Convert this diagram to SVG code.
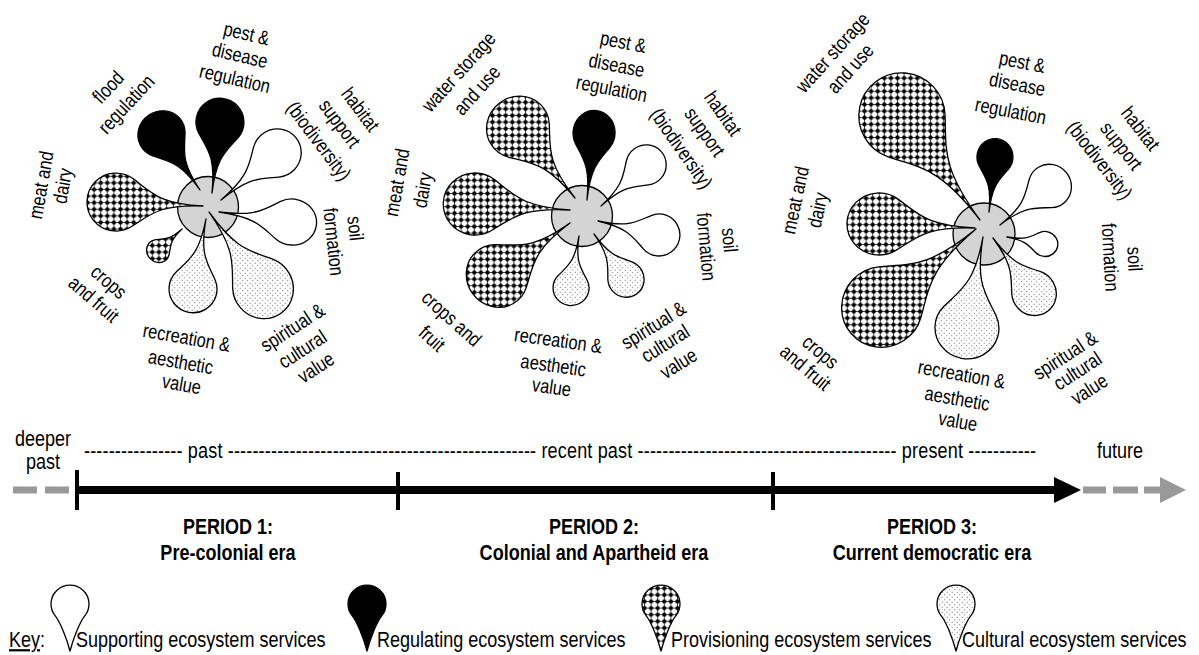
<svg xmlns="http://www.w3.org/2000/svg" width="1199" height="655" viewBox="0 0 1199 655">
  <style>
    .t { font-family: 'Liberation Sans', Arial, sans-serif; fill: #000; }
    .lb { font-size: 20px; text-anchor: middle; dominant-baseline: central; }
    .tl { font-size: 22px; }
    .mid { text-anchor: middle; }
    .bd { font-size: 22px; font-weight: bold; text-anchor: middle; }
    .hub { fill: #d4d4d4; stroke: #000; stroke-width: 1.3; }
  </style>
  <defs>
    <!-- unit petal: tip at origin, bulb of radius 1 centred at (3,0) -->
    <path id="petal" d="M0,0 C1.5,0.015 1.771,0.36 2.426,0.819 A1,1 0 1 0 2.426,-0.819 C1.771,-0.36 1.5,-0.015 0,0 Z" stroke="#000" stroke-width="1.3" stroke-linejoin="round" vector-effect="non-scaling-stroke"/>
    <!-- shorter petal used in the key: bulb centred at (2.5,0) -->
    <path id="keyPetal" d="M0,0 C0.7,0.18 1.56,0.525 1.871,0.777 A1,1 0 1 0 1.871,-0.777 C1.56,-0.525 0.7,-0.18 0,0 Z" stroke="#000" stroke-width="1.3" stroke-linejoin="round" vector-effect="non-scaling-stroke"/>

    <!-- provisioning fill: dotted mesh -->
    <pattern id="chk" width="6.6" height="6.6" patternUnits="userSpaceOnUse">
      <rect width="6.6" height="6.6" fill="#fff"/>
      <path d="M0,3.3H6.6M3.3,0V6.6" stroke="#000" stroke-width="0.7"/>
      <circle cx="3.3" cy="3.3" r="2.15" fill="#000"/>
    </pattern>
    <!-- cultural fill: fine stipple -->
    <pattern id="dot" width="5" height="5" patternUnits="userSpaceOnUse">
      <rect width="5" height="5" fill="#fff"/>
      <circle cx="1.2" cy="1.2" r="0.55" fill="#555"/>
      <circle cx="3.7" cy="3.7" r="0.55" fill="#555"/>
    </pattern>

    <!-- per-petal copies that undo each petal's rotation and scale so the fills stay upright -->
    <pattern id="p1c" href="#chk" patternTransform="scale(0.092 0.0833) rotate(-137.5)"/>
    <pattern id="p1m" href="#chk" patternTransform="scale(0.03445 0.03448) rotate(177.4)"/>
    <pattern id="c1s" href="#dot" patternTransform="scale(0.03219 0.03333) rotate(-54.6)"/>
    <pattern id="c1r" href="#dot" patternTransform="scale(0.04214 0.04167) rotate(-100.5)"/>
    <pattern id="p2w" href="#chk" patternTransform="scale(0.03295 0.03125) rotate(128.8)"/>
    <pattern id="p2c" href="#chk" patternTransform="scale(0.03326 0.03125) rotate(-144)"/>
    <pattern id="p2m" href="#chk" patternTransform="scale(0.03152 0.03226) rotate(176.4)"/>
    <pattern id="c2s" href="#dot" patternTransform="scale(0.05435 0.05556) rotate(-54.6)"/>
    <pattern id="c2r" href="#dot" patternTransform="scale(0.05704 0.05556) rotate(-98.7)"/>
    <pattern id="p3w" href="#chk" patternTransform="scale(0.02308 0.02326) rotate(126.9)"/>
    <pattern id="p3c" href="#chk" patternTransform="scale(0.02457 0.025) rotate(-140.3)"/>
    <pattern id="p3m" href="#chk" patternTransform="scale(0.03122 0.03226) rotate(177.6)"/>
    <pattern id="c3s" href="#dot" patternTransform="scale(0.04373 0.04545) rotate(-53.3)"/>
    <pattern id="c3r" href="#dot" patternTransform="scale(0.03247 0.03125) rotate(-100)"/>
    <pattern id="kp" href="#chk" patternTransform="scale(0.05319 0.05263) rotate(90)"/>
    <pattern id="kc" href="#dot" patternTransform="scale(0.05319 0.05263) rotate(90)"/>
  </defs>

  <rect width="1199" height="655" fill="#fff"/>

  <!-- Period 1 flower -->
  <g id="flower1">
    <circle class="hub" cx="208" cy="207" r="30.5"/>
    <use id="f1-flood" href="#petal" fill="#000" transform="translate(200 190) rotate(-124.5) scale(22.67 24)"/>
    <use id="f1-pest" href="#petal" fill="#000" transform="translate(212 193) rotate(-83.6) scale(23.8 24)"/>
    <use id="f1-habitat" href="#petal" fill="#fff" transform="translate(221 200) rotate(-40) scale(24.37 24)"/>
    <use id="f1-soil" href="#petal" fill="#fff" transform="translate(219 212) rotate(7.8) scale(24.57 23)"/>
    <use id="f1-spiritual" href="#petal" fill="url(#c1s)" transform="translate(209 212) rotate(54.6) scale(31.07 30)"/>
    <use id="f1-recreation" href="#petal" fill="url(#c1r)" transform="translate(206 219) rotate(100.5) scale(23.73 24)"/>
    <use id="f1-crops" href="#petal" fill="url(#p1c)" transform="translate(182 229) rotate(137.5) scale(10.87 12)"/>
    <use id="f1-meat" href="#petal" fill="url(#p1m)" transform="translate(203 206) rotate(-177.4) scale(29.03 29)"/>
    <g class="t lb">
      <text transform="translate(108 87) rotate(-47) scale(0.82 1)">flood</text>
      <text transform="translate(126 104) rotate(-47) scale(0.82 1)">regulation</text>
      <text transform="translate(246.7 33.3) rotate(13) scale(0.82 1)">pest &amp;</text>
      <text transform="translate(240 55) rotate(13) scale(0.82 1)">disease</text>
      <text transform="translate(235 78.3) rotate(13) scale(0.82 1)">regulation</text>
      <text transform="translate(360.7 109.3) rotate(53) scale(0.82 1)">habitat</text>
      <text transform="translate(340 123.3) rotate(53) scale(0.82 1)">support</text>
      <text transform="translate(319 140.7) rotate(53) scale(0.82 1)">(biodiversity)</text>
      <text transform="translate(355.7 228.3) rotate(84) scale(0.82 1)">soil</text>
      <text transform="translate(334 241.7) rotate(84) scale(0.82 1)">formation</text>
      <text transform="translate(292.3 327.3) rotate(-33) scale(0.82 1)">spiritual &amp;</text>
      <text transform="translate(302.3 349) rotate(-33) scale(0.82 1)">cultural</text>
      <text transform="translate(315.7 367.3) rotate(-33) scale(0.82 1)">value</text>
      <text transform="translate(186.7 337.3) rotate(10) scale(0.82 1)">recreation &amp;</text>
      <text transform="translate(180.7 361.7) rotate(10) scale(0.82 1)">aesthetic</text>
      <text transform="translate(181.7 384) rotate(10) scale(0.82 1)">value</text>
      <text transform="translate(109 281.7) rotate(41) scale(0.82 1)">crops</text>
      <text transform="translate(94 299) rotate(41) scale(0.82 1)">and fruit</text>
      <text transform="translate(40.7 185) rotate(-80) scale(0.82 1)">meat and</text>
      <text transform="translate(62.3 185.7) rotate(-80) scale(0.82 1)">dairy</text>
    </g>
  </g>

  <!-- Period 2 flower -->
  <g id="flower2">
    <circle class="hub" cx="582" cy="216" r="30.5"/>
    <use id="f2-water" href="#petal" fill="url(#p2w)" transform="translate(575 198) rotate(-128.8) scale(30.35 32)"/>
    <use id="f2-pest" href="#petal" fill="#000" transform="translate(587 200) rotate(-84) scale(22.47 21)"/>
    <use id="f2-habitat" href="#petal" fill="#fff" transform="translate(601 206) rotate(-42.3) scale(20.3 20)"/>
    <use id="f2-soil" href="#petal" fill="#fff" transform="translate(598 221) rotate(12.9) scale(20.87 21)"/>
    <use id="f2-spiritual" href="#petal" fill="url(#c2s)" transform="translate(594 234) rotate(54.6) scale(18.4 18)"/>
    <use id="f2-recreation" href="#petal" fill="url(#c2r)" transform="translate(579 236) rotate(98.7) scale(17.53 18)"/>
    <use id="f2-crops" href="#petal" fill="url(#p2c)" transform="translate(570 223) rotate(144) scale(30.07 32)"/>
    <use id="f2-meat" href="#petal" fill="url(#p2m)" transform="translate(570 210) rotate(-176.4) scale(31.73 31)"/>
    <g class="t lb">
      <text transform="translate(458.3 71.7) rotate(-48) scale(0.82 1)">water storage</text>
      <text transform="translate(476.7 90) rotate(-48) scale(0.82 1)">and use</text>
      <text transform="translate(623.3 41.7) rotate(11) scale(0.82 1)">pest &amp;</text>
      <text transform="translate(616.7 65) rotate(11) scale(0.82 1)">disease</text>
      <text transform="translate(611.7 88.3) rotate(11) scale(0.82 1)">regulation</text>
      <text transform="translate(723.3 113.3) rotate(55) scale(0.82 1)">habitat</text>
      <text transform="translate(705 131.7) rotate(55) scale(0.82 1)">support</text>
      <text transform="translate(681.7 148.3) rotate(55) scale(0.82 1)">(biodiversity)</text>
      <text transform="translate(730 240) rotate(85) scale(0.82 1)">soil</text>
      <text transform="translate(706.7 246.7) rotate(85) scale(0.82 1)">formation</text>
      <text transform="translate(653.3 325) rotate(-32) scale(0.82 1)">spiritual &amp;</text>
      <text transform="translate(665 343.3) rotate(-32) scale(0.82 1)">cultural</text>
      <text transform="translate(678.3 363.3) rotate(-32) scale(0.82 1)">value</text>
      <text transform="translate(558.3 340) rotate(8) scale(0.82 1)">recreation &amp;</text>
      <text transform="translate(553.3 365) rotate(8) scale(0.82 1)">aesthetic</text>
      <text transform="translate(551.7 386.7) rotate(8) scale(0.82 1)">value</text>
      <text transform="translate(451.7 318.3) rotate(42) scale(0.82 1)">crops and</text>
      <text transform="translate(432.3 338.3) rotate(42) scale(0.82 1)">fruit</text>
      <text transform="translate(396.7 182.3) rotate(-80) scale(0.82 1)">meat and</text>
      <text transform="translate(422.3 190) rotate(-80) scale(0.82 1)">dairy</text>
    </g>
  </g>

  <!-- Period 3 flower -->
  <g id="flower3">
    <circle class="hub" cx="984" cy="234" r="31"/>
    <use id="f3-water" href="#petal" fill="url(#p3w)" transform="translate(980 220) rotate(-126.9) scale(43.33 43)"/>
    <use id="f3-pest" href="#petal" fill="#000" transform="translate(989 212) rotate(-83.8) scale(18.43 18)"/>
    <use id="f3-habitat" href="#petal" fill="#fff" transform="translate(1000 225) rotate(-38) scale(21.13 22)"/>
    <use id="f3-soil" href="#petal" fill="#fff" transform="translate(1007 237) rotate(10.4) scale(12.87 12.5)"/>
    <use id="f3-spiritual" href="#petal" fill="url(#c3s)" transform="translate(993 238) rotate(53.3) scale(22.87 22)"/>
    <use id="f3-recreation" href="#petal" fill="url(#c3r)" transform="translate(983 237) rotate(100) scale(30.8 32)"/>
    <use id="f3-crops" href="#petal" fill="url(#p3c)" transform="translate(976 229) rotate(140.3) scale(40.7 40)"/>
    <use id="f3-meat" href="#petal" fill="url(#p3m)" transform="translate(975 228) rotate(-177.6) scale(32.03 31)"/>
    <g class="t lb">
      <text transform="translate(832.3 52.3) rotate(-48) scale(0.82 1)">water storage</text>
      <text transform="translate(850 68.3) rotate(-48) scale(0.82 1)">and use</text>
      <text transform="translate(1022.3 61.7) rotate(11) scale(0.82 1)">pest &amp;</text>
      <text transform="translate(1017.3 84) rotate(11) scale(0.82 1)">disease</text>
      <text transform="translate(1010.7 110.7) rotate(11) scale(0.82 1)">regulation</text>
      <text transform="translate(1140.7 128.3) rotate(52) scale(0.82 1)">habitat</text>
      <text transform="translate(1121.7 145.7) rotate(52) scale(0.82 1)">support</text>
      <text transform="translate(1100 160) rotate(52) scale(0.82 1)">(biodiversity)</text>
      <text transform="translate(1135 259) rotate(87) scale(0.82 1)">soil</text>
      <text transform="translate(1110.7 257.3) rotate(87) scale(0.82 1)">formation</text>
      <text transform="translate(1065 355) rotate(-33) scale(0.82 1)">spiritual &amp;</text>
      <text transform="translate(1077.3 370.7) rotate(-33) scale(0.82 1)">cultural</text>
      <text transform="translate(1089 389) rotate(-33) scale(0.82 1)">value</text>
      <text transform="translate(961.7 374) rotate(10) scale(0.82 1)">recreation &amp;</text>
      <text transform="translate(957.3 398.3) rotate(10) scale(0.82 1)">aesthetic</text>
      <text transform="translate(958 421) rotate(10) scale(0.82 1)">value</text>
      <text transform="translate(820.7 351.7) rotate(40) scale(0.82 1)">crops</text>
      <text transform="translate(805.7 367.3) rotate(40) scale(0.82 1)">and fruit</text>
      <text transform="translate(795 200) rotate(-78) scale(0.82 1)">meat and</text>
      <text transform="translate(817.3 210) rotate(-78) scale(0.82 1)">dairy</text>
    </g>
  </g>

  <!-- timeline arrow -->
  <g id="timeline">
    <path d="M13,490H37M45,490H69" stroke="#999" stroke-width="7"/>
    <line x1="76" y1="490" x2="1058" y2="490" stroke="#000" stroke-width="8"/>
    <path d="M1054,477L1081,490L1054,503Z" fill="#000"/>
    <path d="M77,470V510M398,472V510M773,472V510" stroke="#000" stroke-width="4"/>
    <path d="M1083,490H1106M1113,490H1138M1144,490H1163" stroke="#999" stroke-width="7"/>
    <path d="M1160,477L1186,490L1160,503Z" fill="#999"/>
  </g>

  <g id="timeline-labels" class="t tl">
    <text class="mid" transform="translate(43 446) scale(0.82 1)">deeper</text>
    <text class="mid" transform="translate(43 469) scale(0.82 1)">past</text>
    <text transform="translate(84 458) scale(0.82 1)" textLength="1161" lengthAdjust="spacing">---------------- past -------------------------------------------------- recent past ------------------------------------------ present -----------</text>
    <text class="mid" transform="translate(1120 458) scale(0.82 1)">future</text>
  </g>

  <g id="periods" class="t">
    <text class="bd" transform="translate(228 534) scale(0.82 1)">PERIOD 1:</text>
    <text class="bd" transform="translate(228 560) scale(0.82 1)">Pre-colonial era</text>
    <text class="bd" transform="translate(594 534) scale(0.82 1)">PERIOD 2:</text>
    <text class="bd" transform="translate(594 560) scale(0.82 1)">Colonial and Apartheid era</text>
    <text class="bd" transform="translate(932 534) scale(0.82 1)">PERIOD 3:</text>
    <text class="bd" transform="translate(932 560) scale(0.82 1)">Current democratic era</text>
  </g>

  <!-- key -->
  <g id="key" class="t tl">
    <text transform="translate(9 647) scale(0.82 1)"><tspan text-decoration="underline">Key</tspan>:</text>
    <use href="#keyPetal" fill="#fff" transform="translate(70 651) rotate(-90) scale(18.8 19)"/>
    <text transform="translate(76 647) scale(0.82 1)">Supporting ecosystem services</text>
    <use href="#keyPetal" fill="#000" transform="translate(367 651) rotate(-90) scale(18.8 19)"/>
    <text transform="translate(377 647) scale(0.82 1)">Regulating ecosystem services</text>
    <use href="#keyPetal" fill="url(#kp)" transform="translate(661 651) rotate(-90) scale(18.8 19)"/>
    <text transform="translate(671 647) scale(0.82 1)">Provisioning ecosystem services</text>
    <use href="#keyPetal" fill="url(#kc)" transform="translate(956 651) rotate(-90) scale(18.8 19)"/>
    <text transform="translate(962 647) scale(0.82 1)">Cultural ecosystem services</text>
  </g>
</svg>
